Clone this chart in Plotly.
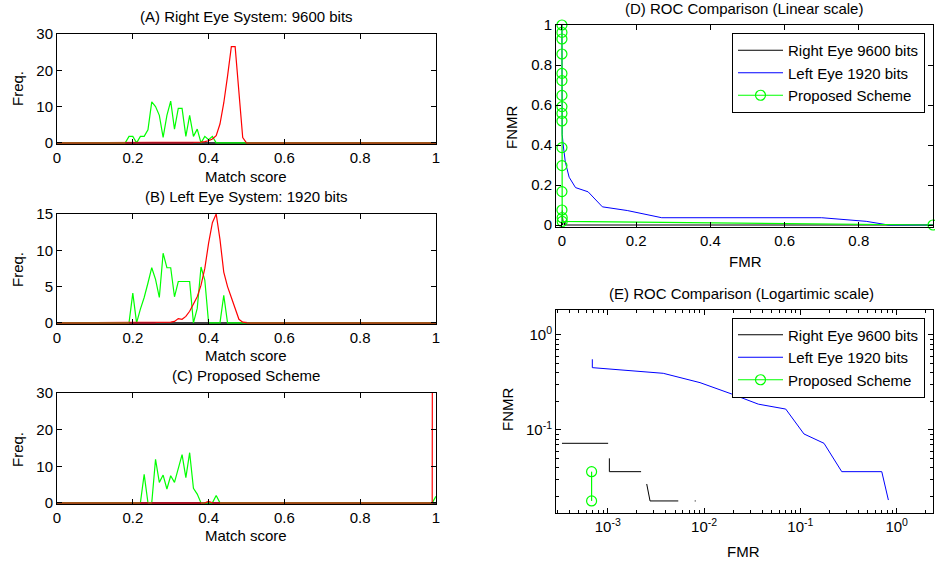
import plotly.graph_objects as go

W, H = 935, 562
FONT = "Liberation Sans, Arial, Helvetica, sans-serif"
FS = 15

# ---------------- data ----------------
# histogram bins (match score), 0.00 .. 1.00 step 0.01
score = [round(i * 0.01, 2) for i in range(101)]

# (A) Right eye system: 9600 bits
a_impostor = [0] * 19 + [1.8, 1.8, 0, 1.8, 1.8, 3.6, 11.3, 10.0, 7.6, 1.5, 7.6, 11.5,
                         3.8, 9.5, 9.5, 1.8, 7.6, 1.8, 3.8, 0, 1.8, 0.9, 1.8] + [0] * 59
a_genuine = [0] * 37 + [0.1, 0.2, 0.35, 0.6, 1.1, 2.0, 5.2, 11.0, 18.4, 26.5, 26.5,
                        13.4, 1.5] + [0] * 51

# (B) Left eye system: 1920 bits
b_impostor = [0] * 20 + [4.1, 0, 1.9, 3.5, 5.5, 7.6, 6.0, 3.5, 9.6, 7.6, 7.6, 3.6, 5.7,
                         5.7, 5.7, 5.7, 0, 2.0, 7.7, 5.9, 0, 0, 0, 0, 3.8] + [0] * 56
b_genuine = [0] * 27 + [0.05, 0.1, 0.1, 0.1, 0.2, 0.6, 0.5, 0.9, 1.6, 2.5, 3.6, 5.2,
                        7.5, 11.0, 13.8, 15.0, 11.5, 7.0, 5.0, 3.5, 2.0, 0.5, 0.1] + [0] * 51

# (C) Proposed scheme
c_impostor = [0] * 23 + [7.8, 0, 0, 11.9, 5.6, 7.6, 3.8, 7.4, 5.6, 9.2, 13.2, 6.9,
                         13.7, 4.0, 2.4, 0, 0, 0, 0, 2.0] + [0] * 57 + [1.8]
c_genuine = [0] * 40 + [0.4] + [0] * 59 + [1000]

# ROC curves (FMR, FNMR)
right_fmr = [0.000335, 0.00101, 0.00102, 0.00104, 0.00104, 0.00222, 0.0024, 0.00254,
             0.00275, 0.0054, 0.0065, 0.0080, 0.0082, 0.0085, 1.0]
right_fnmr = [0.0724, 0.0724, 0.0, 0.0503, 0.0364, 0.0364, 0.0, 0.027,
              0.0179, 0.0179, 0.0, 0.0179, 0.0179, 0.0, 0.0]

left_fmr = [0.0, 0.000692, 0.000692, 0.00377, 0.00908, 0.0194, 0.0366, 0.0705,
            0.109, 0.176, 0.269, 0.70, 0.82, 0.88, 1.0]
left_fnmr = [1.0, 0.555, 0.453, 0.395, 0.315, 0.239, 0.187, 0.166,
             0.0908, 0.0724, 0.0364, 0.0364, 0.0183, 0.0, 0.0]

prop_fmr = [0.0] * 14 + [0.00068, 0.00068, 1.0]
prop_fnmr = [1.0, 0.963, 0.93, 0.855, 0.758, 0.722, 0.648, 0.592, 0.558, 0.52,
             0.387, 0.297, 0.167, 0.075, 0.0364, 0.0179, 0.0]

roc_names = ["Right Eye 9600 bits", "Left Eye 1920 bits", "Proposed Scheme"]

lin_ticks = [0, 0.2, 0.4, 0.6, 0.8, 1]
lin_labels = ["0", "0.2", "0.4", "0.6", "0.8", "1"]
logx_ticks = [0.001, 0.01, 0.1, 1]
logx_labels = ["10<sup>-3</sup>", "10<sup>-2</sup>", "10<sup>-1</sup>", "10<sup>0</sup>"]
logy_ticks = [0.1, 1]
logy_labels = ["10<sup>-1</sup>", "10<sup>0</sup>"]

# ---------------- helpers ----------------
def fx(p):
    return p / W


def fy(p):
    return 1 - p / H


GREEN, RED, BLUE = "#00FF00", "#FF0000", "#0000FF"

fig = go.Figure()


def hist_panel(n, imp, gen):
    xa, ya = ("x" if n == 1 else f"x{n}"), ("y" if n == 1 else f"y{n}")
    zero = [0 for _ in score]
    fig.add_trace(go.Scatter(x=score, y=zero, mode="lines", line=dict(color="black", width=1.5),
                             xaxis=xa, yaxis=ya, showlegend=False, hoverinfo="skip"))
    fig.add_trace(go.Scatter(x=score, y=imp, mode="lines", line=dict(color=GREEN, width=1.2),
                             xaxis=xa, yaxis=ya, showlegend=False))
    fig.add_trace(go.Scatter(x=score, y=gen, mode="lines", line=dict(color=RED, width=1.2),
                             xaxis=xa, yaxis=ya, showlegend=False))
    dark = [0 if g == 0 else None for g in gen]
    fig.add_trace(go.Scatter(x=score, y=dark, mode="lines", line=dict(color="#A81020", width=1.8),
                             xaxis=xa, yaxis=ya, showlegend=False, hoverinfo="skip"))
    brown = [0 if (g == 0 and i == 0) else None for g, i in zip(gen, imp)]
    fig.add_trace(go.Scatter(x=score, y=brown, mode="lines", line=dict(color="#9E5418", width=1.8),
                             xaxis=xa, yaxis=ya, showlegend=False, hoverinfo="skip"))


hist_panel(1, a_impostor, a_genuine)
hist_panel(2, b_impostor, b_genuine)
hist_panel(3, c_impostor, c_genuine)

# (D) linear ROC
fig.add_trace(go.Scatter(x=right_fmr, y=right_fnmr, mode="lines", name=roc_names[0],
                         line=dict(color="black", width=1), xaxis="x4", yaxis="y4", legend="legend"))
fig.add_trace(go.Scatter(x=left_fmr, y=left_fnmr, mode="lines", name=roc_names[1],
                         line=dict(color=BLUE, width=1), xaxis="x4", yaxis="y4", legend="legend"))
fig.add_trace(go.Scatter(x=prop_fmr, y=prop_fnmr, mode="lines+markers", name=roc_names[2],
                         line=dict(color=GREEN, width=1.2),
                         marker=dict(symbol="circle-open", size=10, color=GREEN, line=dict(width=1.2)),
                         cliponaxis=False, xaxis="x4", yaxis="y4", legend="legend"))


# (E) log ROC (non-positive values cannot be shown on log axes -> gaps)
def logpair(xs, ys):
    ok = [(a > 0 and b > 0) for a, b in zip(xs, ys)]
    return ([a if k else None for a, k in zip(xs, ok)], [b if k else None for b, k in zip(ys, ok)])


for fm, fn, nm, col, mode in [(right_fmr, right_fnmr, roc_names[0], "black", "lines"),
                              (left_fmr, left_fnmr, roc_names[1], BLUE, "lines"),
                              (prop_fmr, prop_fnmr, roc_names[2], GREEN, "lines+markers")]:
    lx, ly = logpair(fm, fn)
    fig.add_trace(go.Scatter(x=lx, y=ly, mode=mode, name=nm,
                             line=dict(color=col, width=1.2 if col == GREEN else 1),
                             marker=dict(symbol="circle-open", size=10, color=col, line=dict(width=1.2)),
                             xaxis="x5", yaxis="y5", legend="legend2"))

# ---------------- axes ----------------
base = dict(showline=True, linecolor="black", linewidth=1, mirror="ticks", ticks="inside",
            ticklen=5, tickcolor="black", tickwidth=1, showgrid=False, zeroline=False,
            automargin=False, tickfont=dict(family=FONT, size=FS, color="black"))

hist_boxes = [(34, 144, [-0.3, 30], [0, 10, 20, 30]),
              (214, 324, [-0.15, 15], [0, 5, 10, 15]),
              (393, 504, [-0.3, 30], [0, 10, 20, 30])]
layout_axes = {}
for k, (top, bot, yr, yt) in enumerate(hist_boxes, start=1):
    sx = "" if k == 1 else str(k)
    layout_axes[f"xaxis{sx}"] = dict(base, domain=[fx(57), fx(436)], range=[0, 1],
                                     tickvals=lin_ticks, ticktext=lin_labels,
                                     anchor="y" if k == 1 else f"y{k}")
    layout_axes[f"yaxis{sx}"] = dict(base, domain=[fy(bot), fy(top)], range=yr, tickvals=yt,
                                     anchor="x" if k == 1 else f"x{k}")

layout_axes["xaxis4"] = dict(base, domain=[fx(556), fx(933)], range=[-0.016, 1.0],
                             tickvals=lin_ticks, ticktext=lin_labels, anchor="y4")
layout_axes["yaxis4"] = dict(base, domain=[fy(227), fy(25)], range=[-0.01, 1.0],
                             tickvals=lin_ticks, ticktext=lin_labels, anchor="x4")
minor = dict(ticks="inside", ticklen=3, tickcolor="black", tickwidth=1, dtick="D1", showgrid=False)
layout_axes["xaxis5"] = dict(base, type="log", domain=[fx(556), fx(933)], range=[-3.537, 0.377],
                             tickvals=logx_ticks, ticktext=logx_labels, minor=minor, anchor="y5")
layout_axes["yaxis5"] = dict(base, type="log", domain=[fy(513), fy(310)], range=[-1.874, 0.263],
                             tickvals=logy_ticks, ticktext=logy_labels, minor=minor, anchor="x5")

# ---------------- text ----------------
def ann(text, x, y, angle=0):
    return dict(text=text, x=fx(x), y=fy(y), xref="paper", yref="paper", showarrow=False,
                xanchor="center", yanchor="middle", textangle=angle,
                font=dict(family=FONT, size=FS, color="black"))


annotations = [
    ann("(A) Right Eye System: 9600 bits", 246.5, 16.5),
    ann("Freq.", 17, 89, -90),
    ann("Match score", 246.5, 176),
    ann("(B) Left Eye System: 1920 bits", 246.5, 196),
    ann("Freq.", 17, 270, -90),
    ann("Match score", 246.5, 355),
    ann("(C) Proposed Scheme", 246.5, 375),
    ann("Freq.", 17, 450, -90),
    ann("Match score", 246.5, 535),
    ann("(D) ROC Comparison (Linear scale)", 744, 8.5),
    ann("FNMR", 512, 128, -90),
    ann("FMR", 745, 262),
    ann("(E) ROC Comparison (Logartimic scale)", 741, 293),
    ann("FNMR", 507, 410, -90),
    ann("FMR", 743, 551),
]

leg = dict(xref="paper", yref="paper", xanchor="left", yanchor="top", bgcolor="white",
           bordercolor="black", borderwidth=1, font=dict(family=FONT, size=FS, color="black"),
           itemwidth=45, tracegroupgap=0)

fig.update_layout(
    template="none",
    width=W, height=H, autosize=False,
    margin=dict(l=0, r=0, t=0, b=0, pad=0, autoexpand=False),
    paper_bgcolor="white", plot_bgcolor="white",
    font=dict(family=FONT, size=FS, color="black"),
    annotations=annotations,
    legend=dict(leg, x=fx(732), y=fy(33)),
    legend2=dict(leg, x=fx(732), y=fy(317.5)),
    **layout_axes,
)

fig.write_html("out.html", config={"responsive": False, "displayModeBar": False},
               post_script="document.body.style.margin='0';document.body.style.overflow='hidden';")
